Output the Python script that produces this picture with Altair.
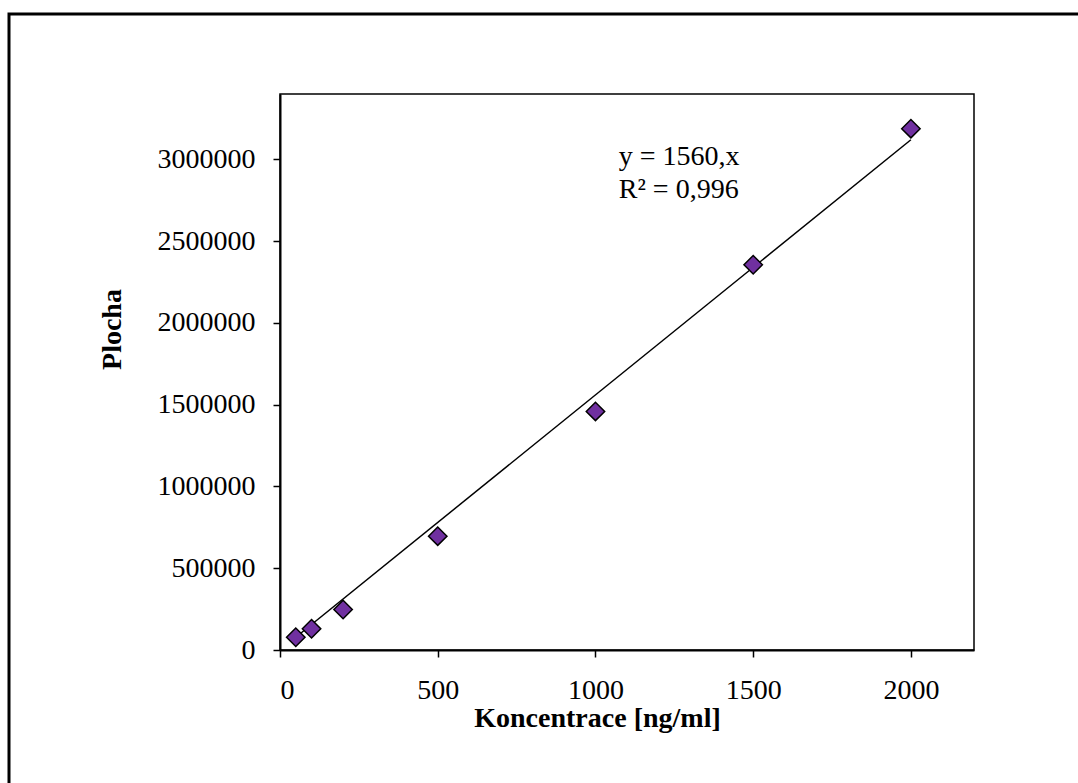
import altair as alt
import pandas as pd

# Data
concentration = [50, 100, 200, 500, 1000, 1500, 2000]
area = [78000, 130000, 248000, 696000, 1459000, 2356000, 3188000]

trend_x = [50, 2000]
trend_y = [78000, 3120000]  # y = 1560 x

eq_lines = ["y = 1560,x", "R² = 0,996"]
eq_x = [1074, 1074]
eq_y = [2968000, 2766000]

y_ticks = [0, 500000, 1000000, 1500000, 2000000, 2500000, 3000000]
x_ticks = [0, 500, 1000, 1500, 2000]

FONT = "Liberation Serif"
FS = 28
W, H = 694, 556

pts = pd.DataFrame({"x": concentration, "y": area})
trend = pd.DataFrame({"x": trend_x, "y": trend_y})
eq = pd.DataFrame({"t": eq_lines, "x": eq_x, "y": eq_y})

xscale = alt.Scale(domain=[0, 2200], nice=False, zero=True)
yscale = alt.Scale(domain=[0, 3400000], nice=False, zero=True)

xaxis = alt.Axis(
    title="Koncentrace [ng/ml]", values=x_ticks, grid=False,
    labelFont=FONT, labelFontSize=FS, labelColor="black", labelPadding=19,
    titleFont=FONT, titleFontSize=FS, titleFontWeight="bold", titleColor="black",
    titleX=317, titleY=68, titleBaseline="middle", titleAlign="center",
    domainColor="black", domainWidth=2, tickColor="black", tickWidth=1.5, tickSize=7,
    format="d",
)
yaxis = alt.Axis(
    title="Plocha", values=y_ticks, grid=False,
    labelFont=FONT, labelFontSize=FS, labelColor="black", labelPadding=18,
    titleFont=FONT, titleFontSize=FS, titleFontWeight="bold", titleColor="black",
    titleX=-168, titleY=235, titleBaseline="middle", titleAlign="center", titleAngle=-90,
    domainColor="black", domainWidth=2, tickColor="black", tickWidth=1.5, tickSize=7,
    format="d",
)

frame = alt.Chart(pd.DataFrame({"a": [0]})).mark_rect(
    fill=None, stroke="black", strokeWidth=3
).encode(
    x=alt.value(-271), x2=alt.value(830),
    y=alt.value(-80), y2=alt.value(720),
)

line = alt.Chart(trend).mark_line(color="black", strokeWidth=1.5).encode(
    x=alt.X("x:Q", scale=xscale, axis=xaxis),
    y=alt.Y("y:Q", scale=yscale, axis=yaxis),
)

points = alt.Chart(pts).mark_point(
    shape="diamond", filled=True, fill="#7030A0", stroke="black",
    strokeWidth=1.5, size=340, opacity=1,
).encode(
    x=alt.X("x:Q", scale=xscale),
    y=alt.Y("y:Q", scale=yscale),
)

text = alt.Chart(eq).mark_text(
    font=FONT, fontSize=FS, color="black", align="left", baseline="alphabetic"
).encode(
    x=alt.X("x:Q", scale=xscale),
    y=alt.Y("y:Q", scale=yscale),
    text="t:N",
)

chart = alt.layer(frame, line, points, text).properties(
    width=W, height=H,
    padding={"left": 280, "top": 94, "right": 104, "bottom": 133},
    autosize=alt.AutoSizeParams(type="none"),
    background="white",
).configure_view(stroke="black", strokeWidth=1.5)

chart.save("out.html", embed_options={"renderer": "svg", "actions": False})
